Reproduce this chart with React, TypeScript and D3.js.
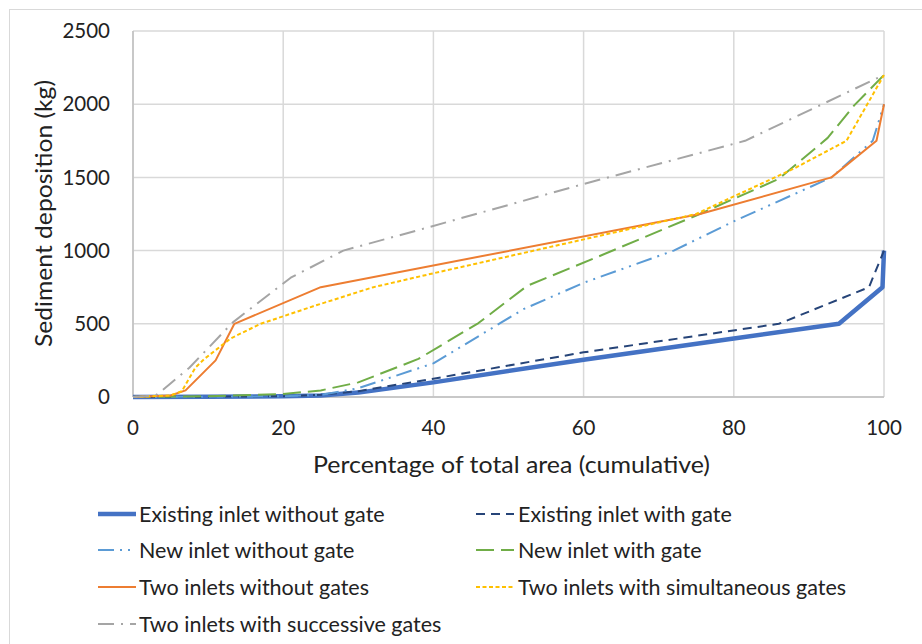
import React from "react";
import * as d3 from "d3";

const seriesNames = [
  "Existing inlet without gate",
  "Existing inlet with gate",
  "New inlet without gate",
  "New inlet with gate",
  "Two inlets without gates",
  "Two inlets with simultaneous gates",
  "Two inlets with successive gates",
];

const existingNoGate: [number, number][] = [
  [0, 0], [10, 2], [20, 5], [25, 10], [30, 30], [40, 100], [60, 255], [80, 400], [94, 500], [99.8, 750], [100, 1000],
];
const existingGate: [number, number][] = [
  [0, 0], [20, 5], [25, 15], [30, 40], [40, 125], [60, 305], [86, 500], [98, 750], [100, 1000],
];
const newNoGate: [number, number][] = [
  [0, 0], [20, 5], [25, 15], [30, 60], [40, 230], [52, 600], [60, 780], [72, 1000], [80, 1200], [93, 1500], [98.5, 1750], [100, 2000],
];
const newGate: [number, number][] = [
  [0, 0], [10, 5], [20, 20], [25, 45], [30, 100], [38, 260], [46, 505], [52.5, 760], [62, 960], [75, 1240], [86, 1490], [92.5, 1770], [96, 1990], [100, 2200],
];
const twoNoGates: [number, number][] = [
  [0, 0], [5, 10], [7, 45], [11, 250], [13.5, 500], [25, 750], [75.5, 1250], [93, 1500], [99, 1750], [100, 2000],
];
const twoSimultaneous: [number, number][] = [
  [0, 0], [5, 10], [6.5, 40], [8.3, 200], [9.5, 260], [13, 400], [17, 500], [24, 620], [32, 750], [40, 845], [75, 1250], [80, 1370], [88, 1560], [95, 1750], [100, 2200],
];
const twoSuccessive: [number, number][] = [
  [0, 0], [3, 10], [4, 50], [7.5, 200], [13.3, 510], [21, 815], [28, 1000], [38, 1140], [60, 1455], [81.5, 1750], [100, 2200],
];

const seriesData = [existingNoGate, existingGate, newNoGate, newGate, twoNoGates, twoSimultaneous, twoSuccessive];
const colors = ["#4472C4", "#264478", "#5B9BD5", "#70AD47", "#ED7D31", "#FFC000", "#A5A5A5"];
const widths = [4.5, 2, 2, 2, 2, 2, 2];
const dashes = ["", "9,6", "16,6,2,6,2,6", "18,7", "", "4,2.5", "16,7,2,7"];

const xTicks = [0, 20, 40, 60, 80, 100];
const yTicks = [0, 500, 1000, 1500, 2000, 2500];

const FONT = "Lato, 'Open Sans', sans-serif";
const TEXT = "#222222";

export default function App() {
  const W = 922, H = 644;
  const left = 133, right = 884, top = 31, bottom = 397;
  const x = d3.scaleLinear().domain([0, 100]).range([left, right]);
  const y = d3.scaleLinear().domain([0, 2500]).range([bottom, top]);
  const line = d3.line<[number, number]>().x(d => x(d[0])).y(d => y(d[1]));

  const legendRows = [514, 550, 587, 624];
  const legendCols = [{ s: 98, e: 136, t: 139 }, { s: 476, e: 514, t: 518 }];
  const legendPos = seriesNames.map((_, i) => ({ col: legendCols[i % 2], row: legendRows[Math.floor(i / 2)] }));
  return (
    <svg width={W} height={H} style={{ position: "absolute", left: 0, top: 0, background: "#fff" }}>
      <rect x={0} y={0} width={W} height={H} fill="#fff" />
      <rect x={9.5} y={9.5} width={W + 20} height={H + 20} fill="none" stroke="#D9D9D9" strokeWidth={1} />
      {xTicks.map(t => (
        <line key={"gx" + t} x1={x(t)} x2={x(t)} y1={top} y2={bottom} stroke="#D9D9D9" strokeWidth={1.5} />
      ))}
      {yTicks.map(t => (
        <line key={"gy" + t} x1={left} x2={right} y1={y(t)} y2={y(t)} stroke="#D9D9D9" strokeWidth={1.5} />
      ))}
      <line x1={left} x2={left} y1={top} y2={bottom} stroke="#BFBFBF" strokeWidth={1.5} />
      <line x1={left} x2={right} y1={bottom} y2={bottom} stroke="#BFBFBF" strokeWidth={1.5} />
      {yTicks.map(t => (
        <text key={"ty" + t} x={110} y={y(t)} dy="0.35em" textAnchor="end" fontFamily={FONT} fontSize={20.5} fill={TEXT}>{t}</text>
      ))}
      {xTicks.map(t => (
        <text key={"tx" + t} x={x(t)} y={428} dy="0.35em" textAnchor="middle" fontFamily={FONT} fontSize={20.5} fill={TEXT}>{t}</text>
      ))}
      <text x={313} y={465} dy="0.35em" fontFamily={FONT} fontSize={24} fill={TEXT}
        textLength={397} lengthAdjust="spacingAndGlyphs">Percentage of total area (cumulative)</text>
      <text transform={`translate(44,347) rotate(-90)`} dy="0.35em" fontFamily={FONT} fontSize={24} fill={TEXT}
        textLength={267} lengthAdjust="spacingAndGlyphs">Sediment deposition (kg)</text>
      {seriesData.map((d, i) => (
        <path key={"s" + i} d={line(d) || ""} fill="none" stroke={colors[i]} strokeWidth={widths[i]}
          strokeDasharray={dashes[i] || undefined} strokeLinejoin="round" />
      ))}
      {seriesNames.map((n, i) => {
        const p = legendPos[i];
        return (
          <g key={"l" + i}>
            <line x1={p.col.s} x2={p.col.e} y1={p.row} y2={p.row} stroke={colors[i]} strokeWidth={widths[i]}
              strokeDasharray={dashes[i] || undefined} />
            <text x={p.col.t} y={p.row} dy="0.35em" fontFamily={FONT} fontSize={21.5} fill={TEXT}>{n}</text>
          </g>
        );
      })}
    </svg>
  );
}
